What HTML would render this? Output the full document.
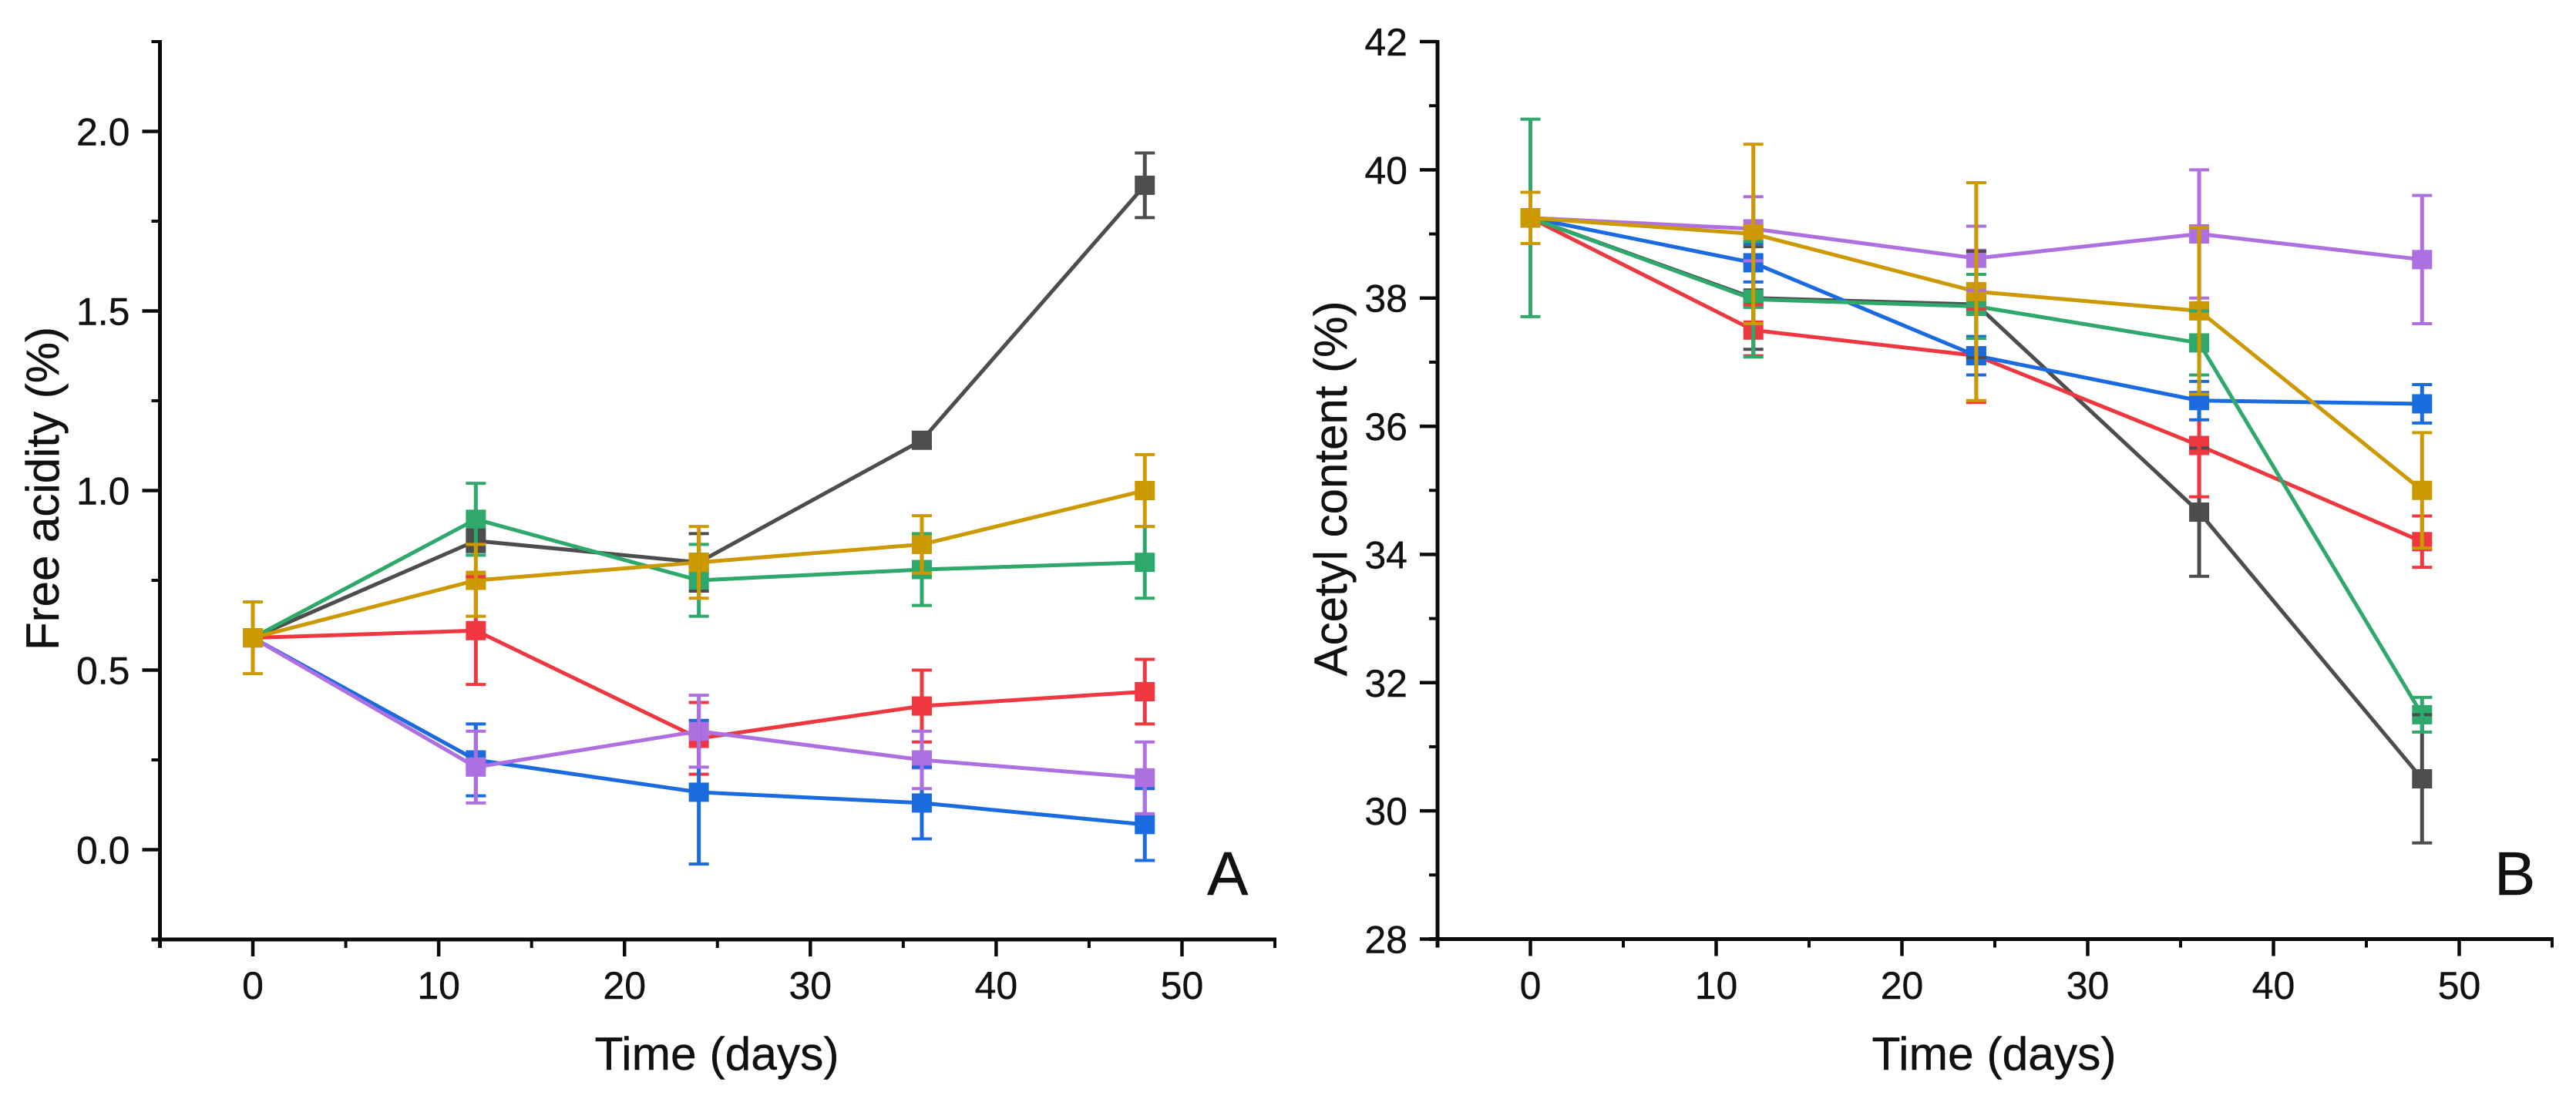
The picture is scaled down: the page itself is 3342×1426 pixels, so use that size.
<!DOCTYPE html>
<html lang="en">
<head>
<meta charset="utf-8">
<title>Free acidity and acetyl content over time</title>
<style>
html,body{margin:0;padding:0;background:#fff;}
svg{display:block;}
text{font-family:"Liberation Sans",Arial,sans-serif;fill:#111;stroke:#111;stroke-width:0.4;}
</style>
</head>
<body>
<svg id="figure" xmlns="http://www.w3.org/2000/svg" width="3342" height="1426" viewBox="0 0 3342 1426">
  <rect x="0" y="0" width="3342" height="1426" fill="#fff"/>
  <g id="panel-a"></g>
  <g id="panel-b"></g>
  <text x="930" y="1388" font-size="60.5" text-anchor="middle">Time (days)</text>
  <text x="2587" y="1388" font-size="60.5" text-anchor="middle">Time (days)</text>
  <text transform="translate(76 634) rotate(-90)" font-size="60" text-anchor="middle">Free acidity (%)</text>
  <text transform="translate(1747 634) rotate(-90)" font-size="60" text-anchor="middle">Acetyl content (%)</text>
  <text x="1566" y="1161" font-size="80">A</text>
  <text x="3236" y="1161" font-size="80">B</text>
</svg>
<script>
// Shared sampling days
const days = [0, 12, 24, 36, 48];

// Series colours, names and draw order
const seriesNames = ['black', 'red', 'blue', 'green', 'purple', 'gold'];
const seriesColors = ['#4d4d4d', '#ef3740', '#1a6be0', '#2fa86c', '#ae70e0', '#cc9900'];

// Panel A: free acidity (%)
const acidBlack = [0.59, 0.86, 0.80, 1.14, 1.85];
const acidRed = [0.59, 0.61, 0.31, 0.40, 0.44];
const acidBlue = [0.59, 0.25, 0.16, 0.13, 0.07];
const acidGreen = [0.59, 0.92, 0.75, 0.78, 0.80];
const acidPurple = [0.59, 0.23, 0.33, 0.25, 0.20];
const acidGold = [0.59, 0.75, 0.80, 0.85, 1.00];

const acidBlackErr = [0, 0.03, 0.08, 0.02, 0.09];
const acidRedErr = [0, 0.15, 0.10, 0.10, 0.09];
const acidBlueErr = [0, 0.10, 0.20, 0.10, 0.10];
const acidGreenErr = [0, 0.10, 0.10, 0.10, 0.10];
const acidPurpleErr = [0, 0.10, 0.10, 0.08, 0.10];
const acidGoldErr = [0.10, 0.10, 0.10, 0.08, 0.10];

// Panel B: acetyl content (%)
const acetylBlack = [39.25, 38.00, 37.90, 34.66, 30.50];
const acetylRed = [39.25, 37.50, 37.10, 35.70, 34.20];
const acetylBlue = [39.25, 38.55, 37.10, 36.40, 36.35];
const acetylGreen = [39.25, 37.98, 37.87, 37.30, 31.50];
const acetylPurple = [39.25, 39.08, 38.62, 39.00, 38.60];
const acetylGold = [39.25, 39.00, 38.10, 37.80, 35.00];

const acetylBlackErr = [0, 0.80, 0.83, 1.00, 1.00];
const acetylRedErr = [0, 0.40, 0.73, 0.80, 0.40];
const acetylBlueErr = [0, 0.30, 0.30, 0.30, 0.30];
const acetylGreenErr = [1.54, 0.90, 0.50, 0.50, 0.27];
const acetylPurpleErr = [0, 0.50, 0.50, 1.00, 1.00];
const acetylGoldErr = [0.40, 1.40, 1.70, 1.30, 0.90];

// Axis tick labels
const xMajorTicks = [0, 10, 20, 30, 40, 50];
const xMinorTicks = [-5, 5, 15, 25, 35, 45, 55];
const acidMajorTicks = ['0.0', '0.5', '1.0', '1.5', '2.0'];
const acidMinorTicks = [-0.25, 0.25, 0.75, 1.25, 1.75, 2.25];
const acetylMajorTicks = ['28', '30', '32', '34', '36', '38', '40', '42'];
const acetylMinorTicks = [29, 31, 33, 35, 37, 39, 41];

const SVG_NS = 'http://www.w3.org/2000/svg';

function node(parent, tag, attrs, content) {
  const el = document.createElementNS(SVG_NS, tag);
  for (const key in attrs) el.setAttribute(key, attrs[key]);
  if (content !== undefined) el.textContent = content;
  parent.appendChild(el);
  return el;
}

function drawPanel(opts) {
  const root = document.getElementById(opts.id);
  const x = function (v) { return opts.x0 + (v - opts.xMin) * (opts.x1 - opts.x0) / (opts.xMax - opts.xMin); };
  const y = function (v) { return opts.yBottom - (v - opts.yMin) * (opts.yBottom - opts.yTop) / (opts.yMax - opts.yMin); };

  // Connecting lines and markers first
  opts.values.forEach(function (vals, s) {
    const line = node(root, 'polyline', {
      points: vals.map(function (v, i) { return x(days[i]) + ',' + y(v); }).join(' '),
      fill: 'none', stroke: seriesColors[s], 'stroke-width': 5, 'stroke-linejoin': 'round'
    });
    
    
    vals.forEach(function (v, i) {
      const mark = node(root, 'rect', {
        x: x(days[i]) - 13, y: y(v) - 12.5, width: 26, height: 25, fill: seriesColors[s]
      });
      
      
    });
  });

  // Error bars sit above every marker
  opts.errors.forEach(function (errs, s) {
    errs.forEach(function (e, i) {
      if (!e) return;
      const v = opts.values[s][i];
      const cx = x(days[i]);
      const stem = node(root, 'line', {
        x1: cx, x2: cx, y1: y(v + e), y2: y(v - e), stroke: seriesColors[s], 'stroke-width': 5
      });
      
      
      const caps = node(root, 'path', {
        d: 'M' + (cx - 13) + ' ' + y(v + e) + 'H' + (cx + 13) +
           'M' + (cx - 13) + ' ' + y(v - e) + 'H' + (cx + 13),
        fill: 'none', stroke: seriesColors[s], 'stroke-width': 4
      });
      
      
    });
  });

  // Axes
  const axisColor = '#0a0a0a';
  const yAxis = node(root, 'line', { x1: opts.x0, x2: opts.x0, y1: opts.yTop - 2, y2: opts.yBottom + 11, stroke: axisColor, 'stroke-width': 5 });
  
  
  const xAxis = node(root, 'line', { x1: opts.x0 - 11, x2: opts.x1 + 2, y1: opts.yBottom, y2: opts.yBottom, stroke: axisColor, 'stroke-width': 5 });
  
  

  xMajorTicks.forEach(function (t) {
    const tick = node(root, 'line', { x1: x(t), x2: x(t), y1: opts.yBottom, y2: opts.yBottom + 22, stroke: axisColor, 'stroke-width': 4.5 });
    
    
    const label = node(root, 'text', { x: x(t), y: 1296, 'font-size': 50, 'text-anchor': 'middle' }, String(t));
    
    
  });
  xMinorTicks.forEach(function (t) {
    const tick = node(root, 'line', { x1: x(t), x2: x(t), y1: opts.yBottom, y2: opts.yBottom + 11, stroke: axisColor, 'stroke-width': 4 });
    
    
  });
  opts.majorTicks.forEach(function (t) {
    const v = parseFloat(t);
    const tick = node(root, 'line', { x1: opts.x0 - 23, x2: opts.x0, y1: y(v), y2: y(v), stroke: axisColor, 'stroke-width': 4.5 });
    
    
    const label = node(root, 'text', { x: opts.x0 - 39, y: y(v) + 18, 'font-size': 50, 'text-anchor': 'end' }, t);
    
    
  });
  opts.minorTicks.forEach(function (t) {
    const tick = node(root, 'line', { x1: opts.x0 - 11, x2: opts.x0, y1: y(t), y2: y(t), stroke: axisColor, 'stroke-width': 4 });
    
    
  });
}

drawPanel({
  id: 'panel-a', prefix: 'acidity',
  x0: 207.5, x1: 1654, xMin: -5, xMax: 55,
  yTop: 54, yBottom: 1219, yMin: -0.25, yMax: 2.25,
  values: [acidBlack, acidRed, acidBlue, acidGreen, acidPurple, acidGold],
  errors: [acidBlackErr, acidRedErr, acidBlueErr, acidGreenErr, acidPurpleErr, acidGoldErr],
  majorTicks: acidMajorTicks, minorTicks: acidMinorTicks
});

drawPanel({
  id: 'panel-b', prefix: 'acetyl',
  x0: 1865, x1: 3311, xMin: -5, xMax: 55,
  yTop: 54, yBottom: 1218.5, yMin: 28, yMax: 42,
  values: [acetylBlack, acetylRed, acetylBlue, acetylGreen, acetylPurple, acetylGold],
  errors: [acetylBlackErr, acetylRedErr, acetylBlueErr, acetylGreenErr, acetylPurpleErr, acetylGoldErr],
  majorTicks: acetylMajorTicks, minorTicks: acetylMinorTicks
});
</script>
</body>
</html>
